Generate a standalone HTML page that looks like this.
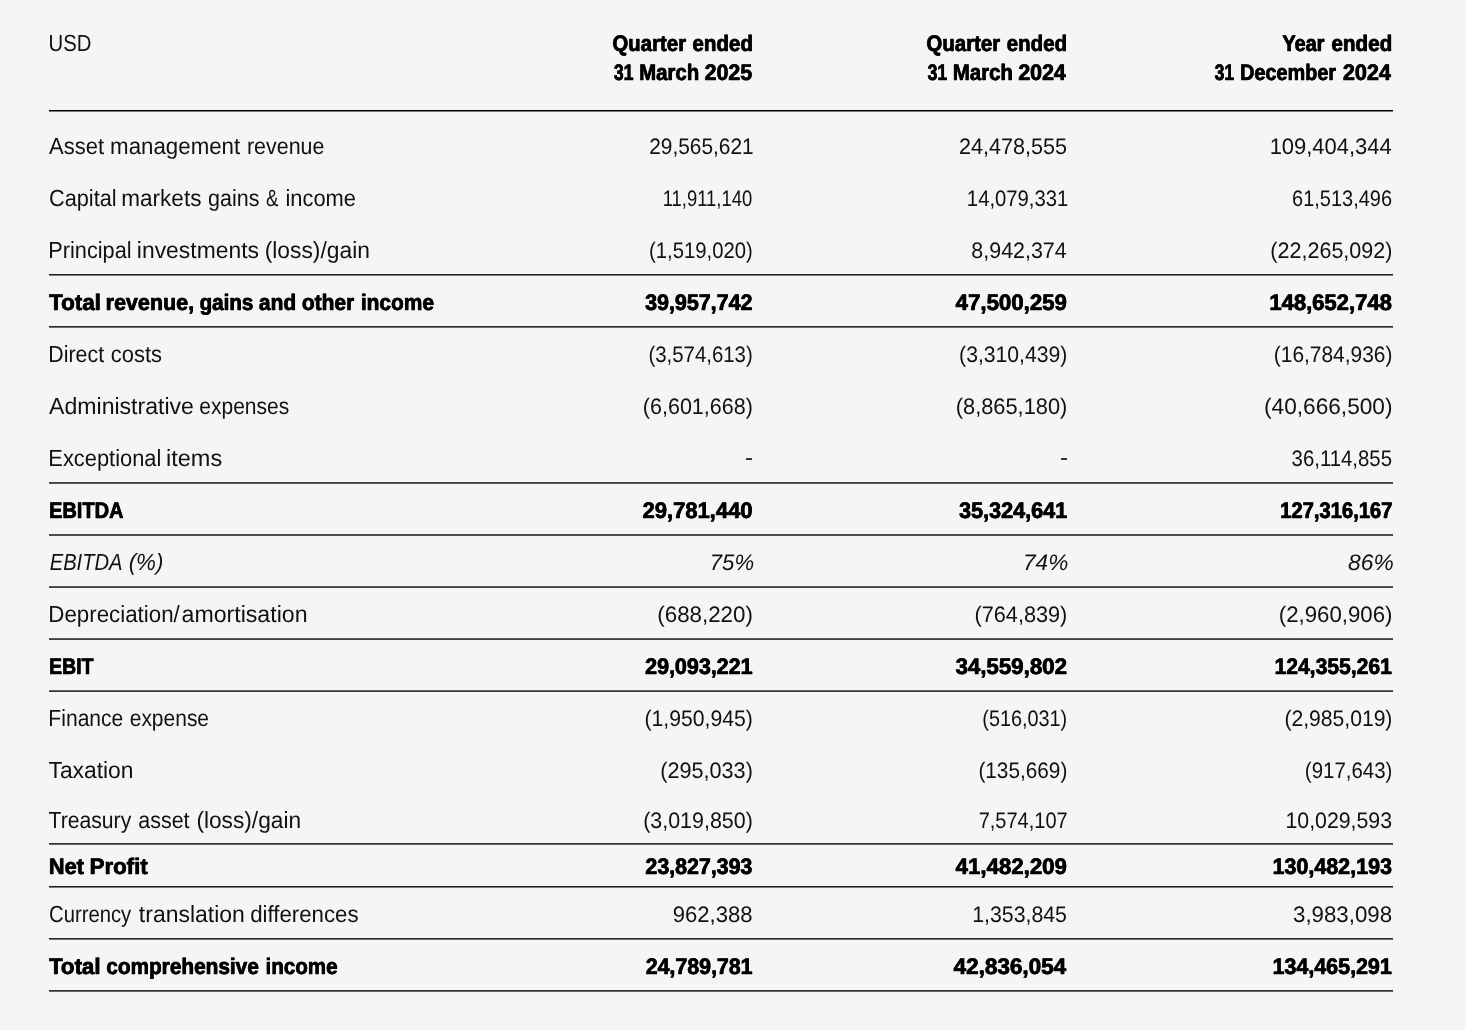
<!DOCTYPE html>
<html lang="en">
<head>
<meta charset="utf-8">
<title>Financial summary</title>
<style>
html,body{margin:0;padding:0}
body{width:1466px;height:1030px;background:#f5f5f5;overflow:hidden;position:relative;
 font-family:"Liberation Sans",sans-serif;color:#111;text-rendering:geometricPrecision}
.sheet{position:absolute;left:0;top:0;width:1466px;height:1030px;will-change:transform}
.row{position:absolute;left:0;width:1466px;height:0}
.c{position:absolute;top:0;display:block;white-space:nowrap;font-size:23.4px;line-height:23.4px}
.c.n{top:1px;font-size:22.4px;line-height:22.4px}
.c.d{top:0}
.b .c{font-size:22.5px;line-height:22.5px;font-weight:bold;color:#000;-webkit-text-stroke:0.6px #000;text-shadow:0.45px 0 0 #000}
.i .c{font-style:italic}
.w{display:inline-block;transform-origin:0 0}
.rule{position:absolute;left:49px;width:1344px;height:2px}
</style>
</head>
<body>
<div class="sheet">
<div class="row" style="top:32px"><span class="c" style="left:48px"><span class="w" style="transform:translate(0.53px,0.00px) scaleX(0.8674)">USD</span></span></div>
<div class="row b h" style="top:32px"><span class="c" style="left:612px"><span class="w" style="transform:translate(0.24px,0.85px) scaleX(0.9067)">Quarter</span> <span class="w" style="transform:translate(-7.63px,0.85px) scaleX(0.9115)">ended</span></span>
<span class="c" style="left:926px"><span class="w" style="transform:translate(0.34px,0.85px) scaleX(0.9067)">Quarter</span> <span class="w" style="transform:translate(-7.53px,0.85px) scaleX(0.9131)">ended</span></span>
<span class="c" style="left:1282px"><span class="w" style="transform:translate(0.23px,0.85px) scaleX(0.8857)">Year</span> <span class="w" style="transform:translate(-4.73px,0.85px) scaleX(0.9177)">ended</span></span></div>
<div class="row b h" style="top:61px"><span class="c" style="left:613px"><span class="w" style="transform:translate(0.73px,0.85px) scaleX(0.7861)">31</span> <span class="w" style="transform:translate(-4.99px,0.85px) scaleX(0.9066)">March</span> <span class="w" style="transform:translate(-12.45px,0.85px) scaleX(0.9477)">2025</span></span>
<span class="c" style="left:927px"><span class="w" style="transform:translate(0.43px,0.85px) scaleX(0.7861)">31</span> <span class="w" style="transform:translate(-5.29px,0.85px) scaleX(0.9066)">March</span> <span class="w" style="transform:translate(-12.76px,0.85px) scaleX(0.9482)">2024</span></span>
<span class="c" style="left:1214px"><span class="w" style="transform:translate(0.53px,0.85px) scaleX(0.7740)">31</span> <span class="w" style="transform:translate(-5.06px,0.85px) scaleX(0.8823)">December</span> <span class="w" style="transform:translate(-17.16px,0.85px) scaleX(0.9581)">2024</span></span></div>
<div class="row" style="top:134px"><span class="c" style="left:49px"><span class="w" style="transform:translate(0.11px,0.80px) scaleX(0.9394)">Asset</span> <span class="w" style="transform:translate(-3.88px,0.80px) scaleX(0.9525)">management</span> <span class="w" style="transform:translate(-10.02px,0.80px) scaleX(0.9154)">revenue</span></span>
<span class="c n" style="left:649px"><span class="w" style="transform:translate(0.25px,0.80px) scaleX(0.9313)">29,565,621</span></span>
<span class="c n" style="left:958px"><span class="w" style="transform:translate(0.91px,0.80px) scaleX(0.9637)">24,478,555</span></span>
<span class="c n" style="left:1269px"><span class="w" style="transform:translate(0.63px,0.80px) scaleX(0.9807)">109,404,344</span></span></div>
<div class="row" style="top:186px"><span class="c" style="left:48px"><span class="w" style="transform:translate(1.00px,0.84px) scaleX(0.9292)">Capital</span> <span class="w" style="transform:translate(-5.70px,0.84px) scaleX(0.9631)">markets</span> <span class="w" style="transform:translate(-9.00px,0.84px) scaleX(0.9188)">gains</span> <span class="w" style="transform:translate(-12.96px,0.84px) scaleX(0.7979)">&amp;</span> <span class="w" style="transform:translate(-16.56px,0.84px) scaleX(0.9355)">income</span></span>
<span class="c n" style="left:662px"><span class="w" style="transform:translate(0.70px,0.84px) scaleX(0.8233)">11,911,140</span></span>
<span class="c n" style="left:966px"><span class="w" style="transform:translate(0.86px,0.84px) scaleX(0.9052)">14,079,331</span></span>
<span class="c n" style="left:1292px"><span class="w" style="transform:translate(0.09px,0.84px) scaleX(0.8914)">61,513,496</span></span></div>
<div class="row" style="top:238px"><span class="c" style="left:48px"><span class="w" style="transform:translate(0.32px,0.88px) scaleX(0.9279)">Principal</span> <span class="w" style="transform:translate(-7.13px,0.88px) scaleX(0.9780)">investments</span> <span class="w" style="transform:translate(-11.31px,0.88px) scaleX(0.9750)">(loss)/gain</span></span>
<span class="c n" style="left:649px"><span class="w" style="transform:translate(0.04px,0.88px) scaleX(0.9056)">(1,519,020)</span></span>
<span class="c n" style="left:971px"><span class="w" style="transform:translate(0.37px,0.88px) scaleX(0.9563)">8,942,374</span></span>
<span class="c n" style="left:1270px"><span class="w" style="transform:translate(0.36px,0.88px) scaleX(0.9614)">(22,265,092)</span></span></div>
<div class="row b" style="top:291px"><span class="c" style="left:48px"><span class="w" style="transform:translate(0.90px,0.76px) scaleX(0.9975)">Total</span> <span class="w" style="transform:translate(-0.43px,0.76px) scaleX(0.9546)">revenue,</span> <span class="w" style="transform:translate(-5.47px,0.76px) scaleX(0.9143)">gains</span> <span class="w" style="transform:translate(-11.13px,0.76px) scaleX(0.9278)">and</span> <span class="w" style="transform:translate(-15.14px,0.76px) scaleX(0.9272)">other</span> <span class="w" style="transform:translate(-18.28px,0.76px) scaleX(0.9280)">income</span></span>
<span class="c" style="left:644px"><span class="w" style="transform:translate(0.99px,0.76px) scaleX(0.9533)">39,957,742</span></span>
<span class="c" style="left:955px"><span class="w" style="transform:translate(0.56px,0.76px) scaleX(0.9877)">47,500,259</span></span>
<span class="c" style="left:1269px"><span class="w" style="transform:translate(0.21px,0.76px) scaleX(0.9793)">148,652,748</span></span></div>
<div class="row" style="top:342px"><span class="c" style="left:48px"><span class="w" style="transform:translate(0.35px,0.95px) scaleX(0.9120)">Direct</span> <span class="w" style="transform:translate(-5.13px,0.95px) scaleX(0.9364)">costs</span></span>
<span class="c n" style="left:648px"><span class="w" style="transform:translate(0.43px,0.95px) scaleX(0.9110)">(3,574,613)</span></span>
<span class="c n" style="left:959px"><span class="w" style="transform:translate(0.09px,0.95px) scaleX(0.9450)">(3,310,439)</span></span>
<span class="c n" style="left:1273px"><span class="w" style="transform:translate(0.80px,0.95px) scaleX(0.9340)">(16,784,936)</span></span></div>
<div class="row" style="top:394px"><span class="c" style="left:49px"><span class="w" style="transform:translate(0.10px,0.99px) scaleX(0.9859)">Administrative</span> <span class="w" style="transform:translate(-2.69px,0.99px) scaleX(0.8973)">expenses</span></span>
<span class="c n" style="left:642px"><span class="w" style="transform:translate(0.87px,0.99px) scaleX(0.9602)">(6,601,668)</span></span>
<span class="c n" style="left:955px"><span class="w" style="transform:translate(0.75px,0.99px) scaleX(0.9745)">(8,865,180)</span></span>
<span class="c n" style="left:1263px"><span class="w" style="transform:translate(0.99px,0.99px) scaleX(1.0121)">(40,666,500)</span></span></div>
<div class="row" style="top:447px"><span class="c" style="left:48px"><span class="w" style="transform:translate(0.31px,0.03px) scaleX(0.9349)">Exceptional</span> <span class="w" style="transform:translate(-9.07px,0.03px) scaleX(1.0061)">items</span></span>
<span class="c n d" style="left:745px"><span class="w" style="transform:translate(0.03px,0.03px) scaleX(1.0795)">-</span></span>
<span class="c n d" style="left:1059px"><span class="w" style="transform:translate(0.93px,0.03px) scaleX(1.0795)">-</span></span>
<span class="c n" style="left:1291px"><span class="w" style="transform:translate(0.62px,0.03px) scaleX(0.9088)">36,114,855</span></span></div>
<div class="row b" style="top:499px"><span class="c" style="left:48px"><span class="w" style="transform:translate(0.93px,0.91px) scaleX(0.8888)">EBITDA</span></span>
<span class="c" style="left:642px"><span class="w" style="transform:translate(0.43px,0.91px) scaleX(0.9763)">29,781,440</span></span>
<span class="c" style="left:958px"><span class="w" style="transform:translate(0.89px,0.91px) scaleX(0.9607)">35,324,641</span></span>
<span class="c" style="left:1280px"><span class="w" style="transform:translate(0.10px,0.91px) scaleX(0.8968)">127,316,167</span></span></div>
<div class="row i" style="top:551px"><span class="c" style="left:49px"><span class="w" style="transform:translate(0.68px,0.10px) scaleX(0.8618)">EBITDA</span> <span class="w" style="transform:translate(-11.35px,0.10px) scaleX(0.9532)">(%)</span></span>
<span class="c n" style="left:709px"><span class="w" style="transform:translate(0.81px,0.10px) scaleX(0.9872)">75%</span></span>
<span class="c n" style="left:1023px"><span class="w" style="transform:translate(0.06px,0.10px) scaleX(1.0088)">74%</span></span>
<span class="c n" style="left:1348px"><span class="w" style="transform:translate(0.10px,0.10px) scaleX(1.0171)">86%</span></span></div>
<div class="row" style="top:603px"><span class="c" style="left:48px"><span class="w" style="transform:translate(0.27px,0.14px) scaleX(0.9544)">Depreciation/</span><span class="w" style="transform:translate(-4.48px,0.14px) scaleX(0.9889)">amortisation</span></span>
<span class="c n" style="left:657px"><span class="w" style="transform:translate(0.31px,0.14px) scaleX(0.9971)">(688,220)</span></span>
<span class="c n" style="left:974px"><span class="w" style="transform:translate(0.45px,0.14px) scaleX(0.9692)">(764,839)</span></span>
<span class="c n" style="left:1278px"><span class="w" style="transform:translate(0.72px,0.14px) scaleX(0.9933)">(2,960,906)</span></span></div>
<div class="row b" style="top:656px"><span class="c" style="left:48px"><span class="w" style="transform:translate(0.96px,0.02px) scaleX(0.8664)">EBIT</span></span>
<span class="c" style="left:645px"><span class="w" style="transform:translate(0.04px,0.02px) scaleX(0.9532)">29,093,221</span></span>
<span class="c" style="left:955px"><span class="w" style="transform:translate(0.39px,0.02px) scaleX(0.9898)">34,559,802</span></span>
<span class="c" style="left:1274px"><span class="w" style="transform:translate(0.45px,0.02px) scaleX(0.9369)">124,355,261</span></span></div>
<div class="row" style="top:707px"><span class="c" style="left:48px"><span class="w" style="transform:translate(0.37px,0.21px) scaleX(0.9009)">Finance</span> <span class="w" style="transform:translate(-8.29px,0.21px) scaleX(0.8970)">expense</span></span>
<span class="c n" style="left:644px"><span class="w" style="transform:translate(0.49px,0.21px) scaleX(0.9459)">(1,950,945)</span></span>
<span class="c n" style="left:982px"><span class="w" style="transform:translate(0.27px,0.21px) scaleX(0.8864)">(516,031)</span></span>
<span class="c n" style="left:1284px"><span class="w" style="transform:translate(0.39px,0.21px) scaleX(0.9432)">(2,985,019)</span></span></div>
<div class="row" style="top:759px"><span class="c" style="left:48px"><span class="w" style="transform:translate(0.49px,0.25px) scaleX(0.9756)">Taxation</span></span>
<span class="c n" style="left:660px"><span class="w" style="transform:translate(0.26px,0.25px) scaleX(0.9659)">(295,033)</span></span>
<span class="c n" style="left:978px"><span class="w" style="transform:translate(0.41px,0.25px) scaleX(0.9273)">(135,669)</span></span>
<span class="c n" style="left:1304px"><span class="w" style="transform:translate(0.83px,0.25px) scaleX(0.9133)">(917,643)</span></span></div>
<div class="row" style="top:808px"><span class="c" style="left:48px"><span class="w" style="transform:translate(0.52px,0.95px) scaleX(0.9049)">Treasury</span> <span class="w" style="transform:translate(-7.71px,0.95px) scaleX(0.9170)">asset</span> <span class="w" style="transform:translate(-11.61px,0.95px) scaleX(0.9702)">(loss)/gain</span></span>
<span class="c n" style="left:643px"><span class="w" style="transform:translate(0.17px,0.95px) scaleX(0.9575)">(3,019,850)</span></span>
<span class="c n" style="left:978px"><span class="w" style="transform:translate(0.67px,0.95px) scaleX(0.8938)">7,574,107</span></span>
<span class="c n" style="left:1285px"><span class="w" style="transform:translate(0.48px,0.95px) scaleX(0.9509)">10,029,593</span></span></div>
<div class="row b" style="top:855px"><span class="c" style="left:48px"><span class="w" style="transform:translate(0.84px,0.65px) scaleX(0.9627)">Net</span> <span class="w" style="transform:translate(-1.39px,0.65px) scaleX(0.9860)">Profit</span></span>
<span class="c" style="left:645px"><span class="w" style="transform:translate(0.34px,0.65px) scaleX(0.9494)">23,827,393</span></span>
<span class="c" style="left:955px"><span class="w" style="transform:translate(0.56px,0.65px) scaleX(0.9877)">41,482,209</span></span>
<span class="c" style="left:1272px"><span class="w" style="transform:translate(0.43px,0.65px) scaleX(0.9545)">130,482,193</span></span></div>
<div class="row" style="top:902px"><span class="c" style="left:49px"><span class="w" style="transform:translate(0.07px,0.85px) scaleX(0.8660)">Currency</span> <span class="w" style="transform:translate(-11.15px,0.85px) scaleX(0.9817)">translation</span> <span class="w" style="transform:translate(-14.83px,0.85px) scaleX(0.9513)">differences</span></span>
<span class="c n" style="left:672px"><span class="w" style="transform:translate(0.77px,0.85px) scaleX(0.9846)">962,388</span></span>
<span class="c n" style="left:972px"><span class="w" style="transform:translate(0.28px,0.85px) scaleX(0.9498)">1,353,845</span></span>
<span class="c n" style="left:1293px"><span class="w" style="transform:translate(0.05px,0.85px) scaleX(0.9940)">3,983,098</span></span></div>
<div class="row b" style="top:955px"><span class="c" style="left:48px"><span class="w" style="transform:translate(0.90px,0.75px) scaleX(0.9897)">Total</span> <span class="w" style="transform:translate(0.16px,0.75px) scaleX(0.9242)">comprehensive</span> <span class="w" style="transform:translate(-12.56px,0.75px) scaleX(0.9138)">income</span></span>
<span class="c" style="left:645px"><span class="w" style="transform:translate(0.65px,0.75px) scaleX(0.9479)">24,789,781</span></span>
<span class="c" style="left:953px"><span class="w" style="transform:translate(0.56px,0.75px) scaleX(0.9991)">42,836,054</span></span>
<span class="c" style="left:1272px"><span class="w" style="transform:translate(0.44px,0.75px) scaleX(0.9530)">134,465,291</span></span></div>
<div class="rule" style="top:110px;background:linear-gradient(to bottom,#000000 0,#000000 1px,#7a7a7a 1px,#7a7a7a 2px)"></div>
<div class="rule" style="top:274px;background:linear-gradient(to bottom,#1f1f1f 0,#1f1f1f 1px,#797979 1px,#797979 2px)"></div>
<div class="rule" style="top:326px;background:linear-gradient(to bottom,#282828 0,#282828 1px,#707070 1px,#707070 2px)"></div>
<div class="rule" style="top:482px;background:linear-gradient(to bottom,#414141 0,#414141 1px,#585858 1px,#585858 2px)"></div>
<div class="rule" style="top:534px;background:linear-gradient(to bottom,#4a4a4a 0,#4a4a4a 1px,#4e4e4e 1px,#4e4e4e 2px)"></div>
<div class="rule" style="top:586px;background:linear-gradient(to bottom,#535353 0,#535353 1px,#464646 1px,#464646 2px)"></div>
<div class="rule" style="top:638px;background:linear-gradient(to bottom,#5a5a5a 0,#5a5a5a 1px,#3f3f3f 1px,#3f3f3f 2px)"></div>
<div class="rule" style="top:690px;background:linear-gradient(to bottom,#636363 0,#636363 1px,#363636 1px,#363636 2px)"></div>
<div class="rule" style="top:843px;background:linear-gradient(to bottom,#363636 0,#363636 1px,#636363 1px,#636363 2px)"></div>
<div class="rule" style="top:886px;background:linear-gradient(to bottom,#1f1f1f 0,#1f1f1f 1px,#797979 1px,#797979 2px)"></div>
<div class="rule" style="top:938px;background:linear-gradient(to bottom,#282828 0,#282828 1px,#707070 1px,#707070 2px)"></div>
<div class="rule" style="top:990px;background:linear-gradient(to bottom,#313131 0,#313131 1px,#676767 1px,#676767 2px)"></div>
</div>
</body>
</html>
